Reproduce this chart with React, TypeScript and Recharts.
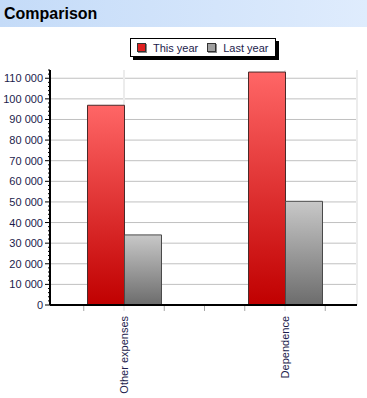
import React from 'react';
import { BarChart, Bar, XAxis, YAxis, CartesianGrid } from 'recharts';

const categories = ['Other expenses', 'Dependence'];
const thisYear = [96900, 113000];
const lastYear = [34000, 50300];
const yTicks = [0, 10000, 20000, 30000, 40000, 50000, 60000, 70000, 80000, 90000, 100000, 110000];
const yMax = 114000;

const data = categories.map((name, i) => ({ name, thisYear: thisYear[i], lastYear: lastYear[i] }));

// minor ticks every 2000 on the value axis
const minorTicks = Array.from({ length: Math.floor(yMax / 2000) + 1 }, (_, i) => i * 2000);

const labelColor = '#1c1c4c';
const font = 'Arial, "Liberation Sans", sans-serif';

const fmt = (v: number) => String(v).replace(/\B(?=(\d{3})+(?!\d))/g, ' ');

const YTick = ({ x, y, payload }: any) => {
  const major = payload.value % 10000 === 0;
  return (
    <g>
      <line x1={x - (major ? 5 : 2)} x2={x} y1={y} y2={y} stroke="#000" strokeWidth={1} />
      {major && (
        <text x={x - 7} y={y} dy={4} textAnchor="end" fontSize={11} fill={labelColor} fontFamily={font}>
          {fmt(payload.value)}
        </text>
      )}
    </g>
  );
};

const BAND = 161;

const XTick = ({ x, y, payload, index }: any) => {
  const q = BAND / 4;
  const offs = index === categories.length - 1 ? [-q, 0, q] : [-q, 0, q, 2 * q];
  return (
    <g>
      {offs.map((o) => (
        <line key={o} x1={x + o} x2={x + o} y1={y - 1} y2={y + 4} stroke={o === 0 ? '#dcdcdc' : '#a8a8a8'} />
      ))}
      <text
        x={x}
        y={y + 9}
        transform={`rotate(-90, ${x}, ${y + 9})`}
        textAnchor="end"
        dy={4}
        fontSize={11}
        fill={labelColor}
        fontFamily={font}
      >
        {payload.value}
      </text>
    </g>
  );
};

const LegendBox = () => (
  <div style={{ position: 'absolute', left: 130, top: 38, width: 150, height: 22, fontFamily: font, fontSize: 11, color: labelColor }}>
    <div style={{ position: 'absolute', left: 3, top: 3, width: 146, height: 19, background: '#000' }} />
    <div
      style={{
        position: 'absolute', left: 0, top: 0, width: 144, height: 17, background: '#fff',
        border: '1px solid #000', display: 'flex', alignItems: 'center',
      }}
    >
      {[
        { label: 'This year', color: '#e02020' },
        { label: 'Last year', color: '#a0a0a0' },
      ].map((it, i) => (
        <div key={it.label} style={{ display: 'flex', alignItems: 'center', marginLeft: i === 0 ? 6 : 9 }}>
          <div style={{ width: 7, height: 7, background: it.color, border: '1px solid #333', boxShadow: '1px 1px 0 #888' }} />
          <span style={{ marginLeft: 7 }}>{it.label}</span>
        </div>
      ))}
    </div>
  </div>
);

export default function App() {
  return (
    <div style={{ position: 'absolute', left: 0, top: 0, width: 367, height: 398, background: '#fff' }}>
      <BarChart
        width={367}
        height={398}
        data={data}
        margin={{ top: 70, right: 10, bottom: 0, left: 0 }}
        barGap={0}
        barSize={37}
      >
        <defs>
          <linearGradient id="gRed" x1="0" y1="0" x2="0" y2="1">
            <stop offset="0%" stopColor="#ff6666" />
            <stop offset="100%" stopColor="#c00000" />
          </linearGradient>
          <linearGradient id="gGrey" x1="0" y1="0" x2="0" y2="1">
            <stop offset="0%" stopColor="#c8c8c8" />
            <stop offset="100%" stopColor="#6c6c6c" />
          </linearGradient>
        </defs>
        <CartesianGrid vertical={false} horizontalValues={yTicks.slice(1)} stroke="#c0c0c0" />
        <CartesianGrid horizontal={false} stroke="#ececec" strokeWidth={2} />
        <XAxis
          dataKey="name"
          height={93}
          padding={{ left: -6.5, right: -8.5 }}
          interval={0}
          axisLine={{ stroke: '#000', strokeWidth: 2 }}
          tickLine={false}
          tickSize={0}
          tick={<XTick />}
        />
        <YAxis
          width={50}
          domain={[0, yMax]}
          ticks={minorTicks}
          interval={0}
          axisLine={{ stroke: '#000', strokeWidth: 2 }}
          tickLine={false}
          tickSize={0}
          tickMargin={0}
          tick={<YTick />}
        />
        <Bar dataKey="thisYear" name="This year" fill="url(#gRed)" stroke="#4a2a2a" strokeWidth={1} isAnimationActive={false} />
        <Bar dataKey="lastYear" name="Last year" fill="url(#gGrey)" stroke="#4a4a4a" strokeWidth={1} isAnimationActive={false} />
      </BarChart>
      <div
        style={{
          position: 'absolute', left: 0, top: 0, width: 367, height: 27,
          background: 'linear-gradient(to right, #c4dbf8, #dfecfd)',
          fontFamily: font, fontWeight: 'bold', fontSize: 16, lineHeight: '27px', paddingLeft: 4, boxSizing: 'border-box',
        }}
      >
        Comparison
      </div>
      <LegendBox />
    </div>
  );
}
